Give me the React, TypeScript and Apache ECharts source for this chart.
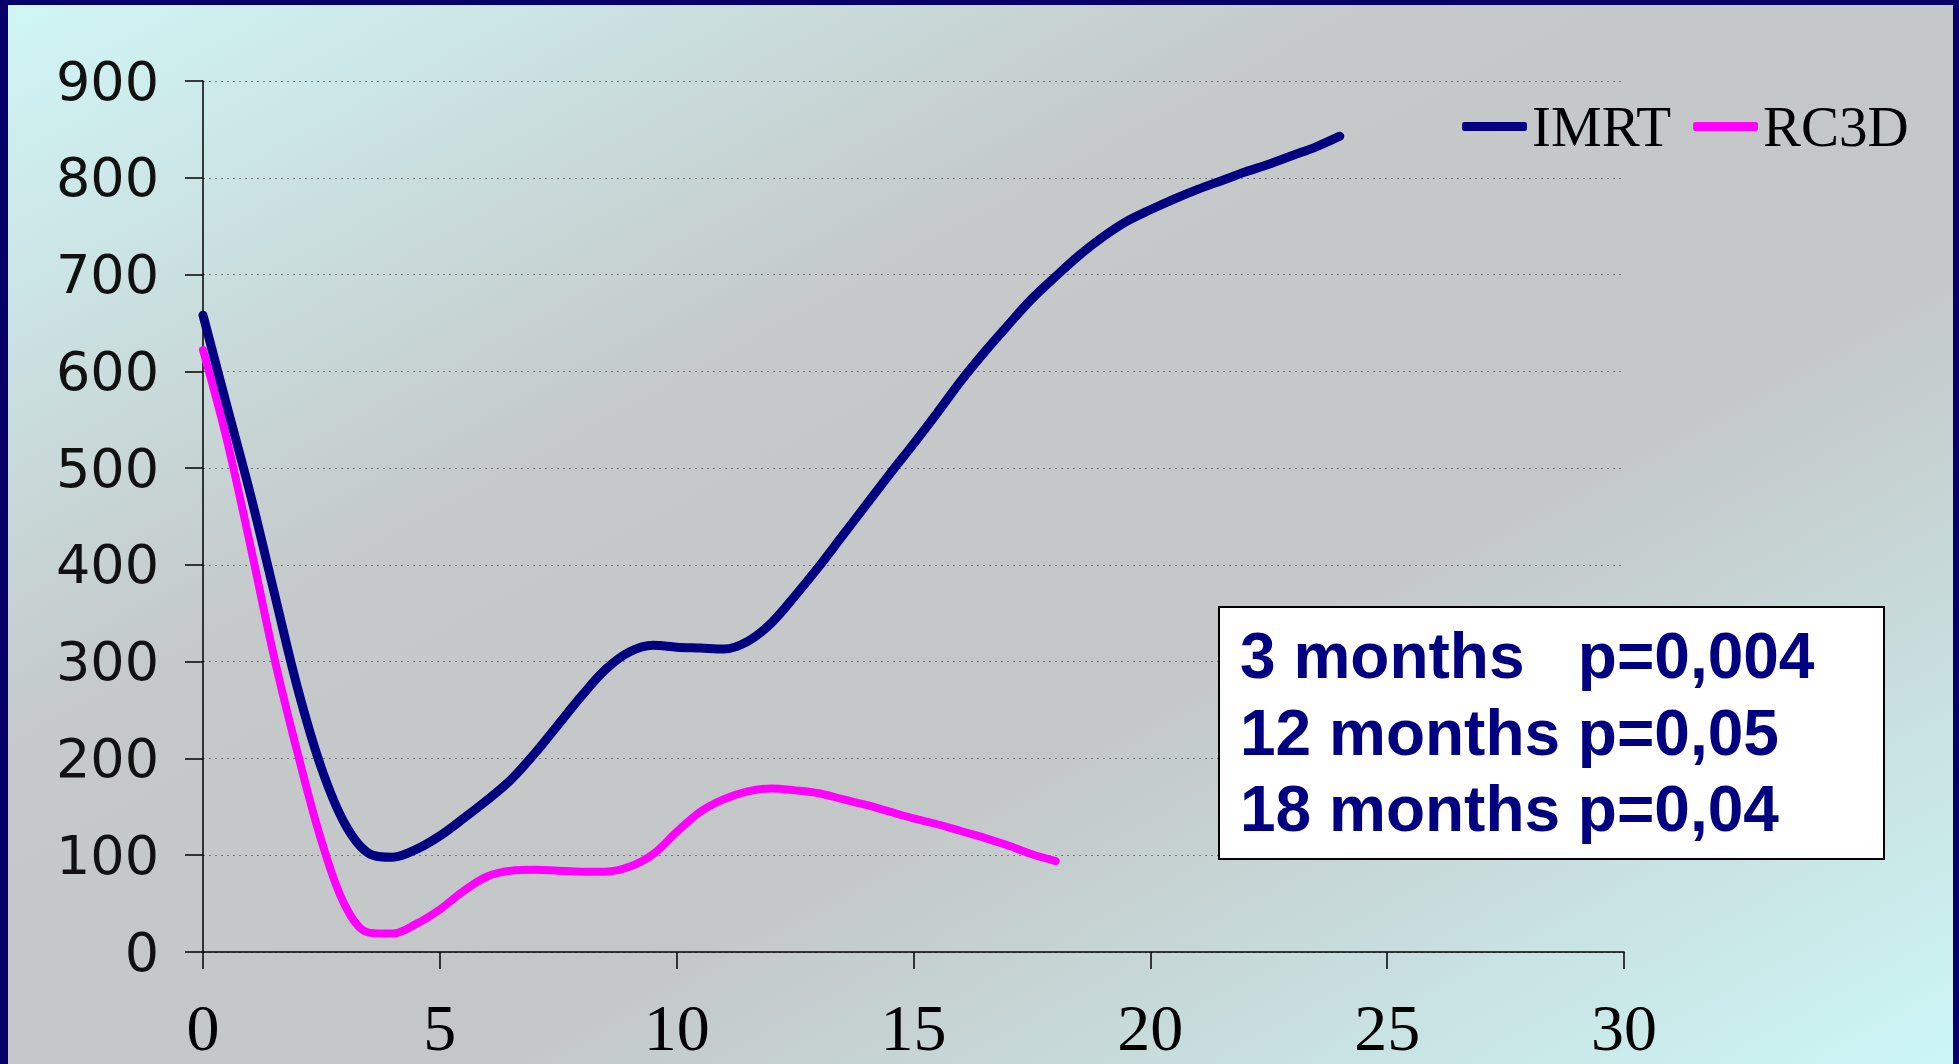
import React, { useEffect, useRef } from "react";
import * as echarts from "echarts";

// ---- data ----
const xTickValues = [0, 5, 10, 15, 20, 25, 30];
const yTickValues = [0, 100, 200, 300, 400, 500, 600, 700, 800, 900];

const imrtMonths = [
  0, 0.5, 1, 1.5, 2, 2.5, 3, 3.5, 4, 4.5, 5, 5.5, 6, 6.5, 7, 7.5, 8, 8.5, 9,
  9.5, 10, 10.5, 11, 11.5, 12, 12.5, 13, 13.5, 14, 14.5, 15, 15.5, 16, 16.5,
  17, 17.5, 18, 18.5, 19, 19.5, 20, 20.5, 21, 21.5, 22, 22.5, 23, 23.5, 24,
];
const imrtValues = [
  658, 565, 473, 372, 272, 190, 132, 102, 98, 106, 120, 138, 157, 178, 205,
  235, 265, 292, 310, 317, 315, 314, 313, 321, 340, 368, 398, 430, 462, 494,
  525, 557, 590, 620, 648, 675, 698, 720, 739, 755, 767, 778, 788, 797, 806,
  814, 823, 832, 843,
];

const rc3dMonths = [
  0, 0.5, 1, 1.5, 2, 2.5, 3, 3.5, 4, 4.5, 5, 5.5, 6, 6.5, 7, 7.5, 8, 8.5, 9,
  9.5, 10, 10.5, 11, 11.5, 12, 12.5, 13, 13.5, 14, 14.5, 15, 15.5, 16, 16.5,
  17, 17.5, 18,
];
const rc3dValues = [
  622, 530, 420, 305, 205, 115, 48, 20, 19, 29, 44, 63, 78, 84, 85, 84, 83,
  83, 88, 101, 124, 145, 158, 166, 169, 167, 164, 158, 152, 145, 138, 132,
  125, 118, 110, 101, 94,
];

const seriesNames = ["IMRT", "RC3D"];
const seriesColors = ["#000080", "#ff00ff"];
const statLines = ["3 months   p=0,004", "12 months p=0,05", "18 months p=0,04"];

const W = 1959;
const H = 1064;

export default function App() {
  const ref = useRef<HTMLDivElement>(null);

  useEffect(() => {
    if (!ref.current) return;
    const chart = echarts.init(ref.current, undefined, { renderer: "svg" });

    const option: any = {
      animation: false,
      backgroundColor: "#08006a",
      graphic: [
        {
          type: "rect",
          z: -10,
          silent: true,
          shape: { x: 8, y: 5, width: W - 8 - 6, height: H - 5 },
          style: {
            fill: new echarts.graphic.LinearGradient(0, 0, 1, 1, [
              { offset: 0, color: "#d0f6f6" },
              { offset: 0.35, color: "#c5c9c9" },
              { offset: 0.62, color: "#c4c7c7" },
              { offset: 1, color: "#ccf6f6" },
            ]),
          },
        },
        {
          type: "rect",
          z: 10,
          shape: { x: 1219, y: 607, width: 665, height: 252 },
          style: { fill: "#ffffff", stroke: "#000000", lineWidth: 2 },
        },
        {
          type: "text",
          z: 11,
          x: 1240,
          y: 618,
          style: {
            text: statLines.join("\n"),
            fill: "#000080",
            font: "bold 64px 'Liberation Sans', Arial, sans-serif",
            lineHeight: 76.5,
            verticalAlign: "top",
            shadowColor: "rgba(0,0,0,0.35)",
            shadowOffsetX: 3,
            shadowOffsetY: 3,
            shadowBlur: 1,
          },
        },
      ],
      legend: {
        data: seriesNames,
        left: 1462,
        top: 98,
        padding: 0,
        itemGap: 22,
        itemWidth: 65,
        itemHeight: 9,
        icon: "roundRect",
        textStyle: {
          fontFamily: "'Liberation Serif', 'Times New Roman', serif",
          fontSize: 57,
          color: "#000000",
        },
      },
      grid: {
        left: 203,
        right: 335,
        top: 81,
        bottom: 112,
        containLabel: false,
        outerBoundsMode: "none",
      },
      xAxis: {
        type: "value",
        min: xTickValues[0],
        max: xTickValues[xTickValues.length - 1],
        interval: 5,
        axisLine: { show: true, lineStyle: { color: "#000", width: 1.5 } },
        axisTick: { show: true, inside: false, length: 17, lineStyle: { color: "#000", width: 1.5 } },
        splitLine: { show: false },
        axisLabel: {
          margin: 42,
          color: "#000",
          fontFamily: "'Liberation Serif', 'Times New Roman', serif",
          fontSize: 66,
          lineHeight: 66,
        },
      },
      yAxis: {
        type: "value",
        min: yTickValues[0],
        max: yTickValues[yTickValues.length - 1],
        interval: 100,
        axisLine: { show: true, lineStyle: { color: "#000", width: 1.5 } },
        axisTick: { show: true, inside: false, length: 18, lineStyle: { color: "#000", width: 1.5 } },
        splitLine: {
          show: true,
          lineStyle: { color: "#7a7a7a", width: 1.2, type: [2, 4] },
        },
        axisLabel: {
          margin: 44,
          color: "#111",
          fontFamily: "'DejaVu Sans', Verdana, sans-serif",
          fontSize: 54,
        },
      },
      series: [
        {
          name: seriesNames[1],
          type: "line",
          smooth: 0.35,
          showSymbol: false,
          symbol: "none",
          z: 3,
          color: seriesColors[1],
          lineStyle: { color: seriesColors[1], width: 8, cap: "round", join: "round" },
          data: rc3dMonths.map((m, i) => [m, rc3dValues[i]]),
        },
        {
          name: seriesNames[0],
          type: "line",
          smooth: 0.35,
          showSymbol: false,
          symbol: "none",
          z: 4,
          color: seriesColors[0],
          lineStyle: { color: seriesColors[0], width: 9, cap: "round", join: "round" },
          data: imrtMonths.map((m, i) => [m, imrtValues[i]]),
        },
      ],
    };

    chart.setOption(option);
    return () => chart.dispose();
  }, []);

  return (
    <div
      ref={ref}
      style={{ position: "absolute", left: 0, top: 0, width: W, height: H }}
    />
  );
}
